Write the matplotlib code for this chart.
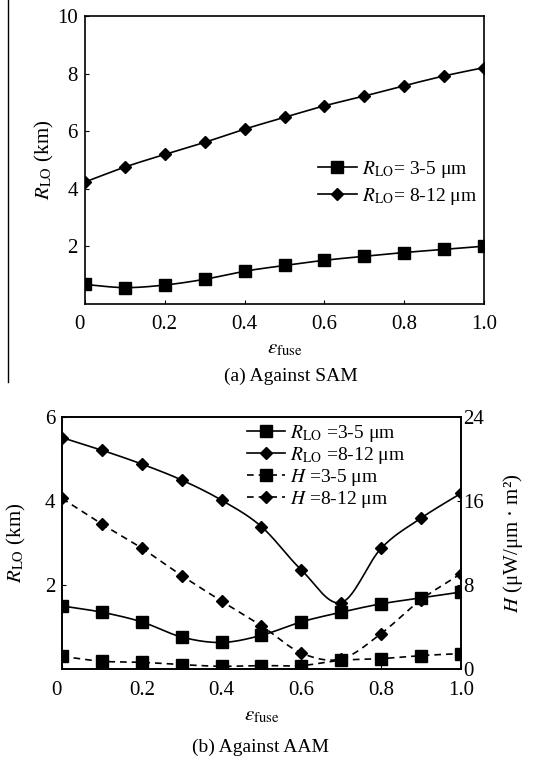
import numpy as np
import matplotlib
matplotlib.use("Agg")
import matplotlib.pyplot as plt
from matplotlib.lines import Line2D

plt.rcParams["font.family"] = ["Liberation Serif", "DejaVu Serif"]
plt.rcParams["mathtext.fontset"] = "stix"
plt.rcParams["font.size"] = 13

eps = [0.0, 0.1, 0.2, 0.3, 0.4, 0.5, 0.6, 0.7, 0.8, 0.9, 1.0]

# (a) Against SAM
sam_r_35 = [0.68, 0.57, 0.66, 0.86, 1.14, 1.34, 1.52, 1.66, 1.79, 1.90, 2.01]
sam_r_812 = [4.24, 4.76, 5.20, 5.62, 6.08, 6.49, 6.89, 7.23, 7.59, 7.93, 8.22]

# (b) Against AAM
aam_r_35 = [1.50, 1.35, 1.12, 0.76, 0.63, 0.80, 1.12, 1.35, 1.55, 1.69, 1.83]
aam_r_812 = [5.51, 5.21, 4.88, 4.50, 4.02, 3.39, 2.36, 1.58, 2.87, 3.59, 4.18]
aam_h_35 = [1.20, 0.73, 0.63, 0.41, 0.25, 0.32, 0.32, 0.82, 0.98, 1.27, 1.46]
aam_h_812 = [16.24, 13.8, 11.5, 8.9, 6.46, 4.12, 1.52, 0.95, 3.36, 6.59, 9.06]

xtick_vals = [0, 0.2, 0.4, 0.6, 0.8, 1.0]
xtick_labels = ["0", "0.2", "0.4", "0.6", "0.8", "1.0"]


def smooth(x, y, n=20):
    # Catmull-Rom spline through the points, like a spreadsheet "smoothed line"
    x = np.asarray(x, float)
    y = np.asarray(y, float)
    px = np.concatenate([[2 * x[0] - x[1]], x, [2 * x[-1] - x[-2]]])
    py = np.concatenate([[2 * y[0] - y[1]], y, [2 * y[-1] - y[-2]]])
    t = np.linspace(0, 1, n)[:, None]
    xs, ys = [], []
    for i in range(1, len(px) - 2):
        for p, out in ((px, xs), (py, ys)):
            p0, p1, p2, p3 = p[i - 1], p[i], p[i + 1], p[i + 2]
            seg = 0.5 * ((2 * p1) + (-p0 + p2) * t + (2 * p0 - 5 * p1 + 4 * p2 - p3) * t ** 2
                         + (-p0 + 3 * p1 - 3 * p2 + p3) * t ** 3)
            out.append(seg.ravel())
    return np.concatenate(xs), np.concatenate(ys)


def series(ax, x, y, marker, ls, ms, label):
    sx, sy = smooth(x, y)
    ax.plot(sx, sy, color="black", ls=ls, lw=1.2)
    ax.plot(x, y, ls="none", marker=marker, ms=ms, color="black")
    return Line2D([], [], color="black", ls=ls, lw=1.2, marker=marker, ms=ms, label=label)


def style_axes(ax):
    ax.tick_params(direction="in", length=3, width=0.8, labelsize=15, pad=5)
    for s in ax.spines.values():
        s.set_linewidth(1.2)


def set_x(ax):
    ax.set_xlim(0, 1.0)
    ax.set_xticks(xtick_vals)
    ax.set_xticklabels(xtick_labels)
    ax.get_xticklabels()[0].set_horizontalalignment("right")


fig = plt.figure(figsize=(5.44, 7.61), dpi=100)

# ---- panel (a)
ax1 = fig.add_axes([0.156, 0.6005, 0.734, 0.378])
h1 = series(ax1, eps, sam_r_35, "s", "-", 8, r"$R_{\mathrm{LO}}$= 3-5 μm")
h2 = series(ax1, eps, sam_r_812, "D", "-", 6, r"$R_{\mathrm{LO}}$= 8-12 μm")
set_x(ax1)
ax1.set_ylim(0, 10)
ax1.set_yticks([2, 4, 6, 8, 10])
style_axes(ax1)
ax1.tick_params(axis="x", pad=8)
ax1.set_ylabel(r"$R_{\mathrm{LO}}$ (km)", fontsize=15, labelpad=1)
ax1.set_xlabel(r"$\varepsilon_{\mathrm{fuse}}$", fontsize=15, labelpad=4)
ax1.legend(handles=[h1, h2], loc="center right", bbox_to_anchor=(1.025, 0.42),
           frameon=False, fontsize=14, handlelength=2.0, handletextpad=0.25,
           labelspacing=0.3)
fig.text(0.535, (761 - 376) / 761, "(a) Against SAM", ha="center", va="center", fontsize=14)

# page edge line on the left of panel (a)
fig.add_artist(Line2D([8 / 544, 8 / 544], [1.0, (761 - 382) / 761],
                      color="black", lw=1.0, transform=fig.transFigure))

# ---- panel (b)
ax2 = fig.add_axes([0.114, 0.121, 0.733, 0.331])
ax3 = ax2.twinx()
g1 = series(ax2, eps, aam_r_35, "s", "-", 8, r"$R_{\mathrm{LO}}$ =3-5 μm")
g2 = series(ax2, eps, aam_r_812, "D", "-", 6, r"$R_{\mathrm{LO}}$ =8-12 μm")
g3 = series(ax3, eps, aam_h_35, "s", (0, (4, 3)), 8, r"$H$ =3-5 μm")
g4 = series(ax3, eps, aam_h_812, "D", (0, (4, 3)), 6, r"$H$ =8-12 μm")
set_x(ax2)
ax2.set_ylim(0, 6)
ax3.set_ylim(0, 24)
ax2.set_yticks([2, 4, 6])
ax3.set_yticks([0, 8, 16, 24])
style_axes(ax2)
style_axes(ax3)
ax2.tick_params(axis="x", pad=9)
ax3.tick_params(axis="y", pad=2)
ax2.set_ylabel(r"$R_{\mathrm{LO}}$ (km)", fontsize=15, labelpad=12)
ax3.set_ylabel(r"$H$ (μW/μm · m²)", fontsize=15, labelpad=12)
ax2.set_xlabel(r"$\varepsilon_{\mathrm{fuse}}$", fontsize=15, labelpad=4)
ax3.legend(handles=[g1, g2, g3, g4], loc="upper right", bbox_to_anchor=(0.905, 1.045),
           frameon=False, fontsize=14, handlelength=2.0, handletextpad=0.25,
           labelspacing=0.05)
fig.text(0.478, (761 - 747) / 761, "(b) Against AAM", ha="center", va="center", fontsize=14)

fig.savefig("out.png", dpi=100)
